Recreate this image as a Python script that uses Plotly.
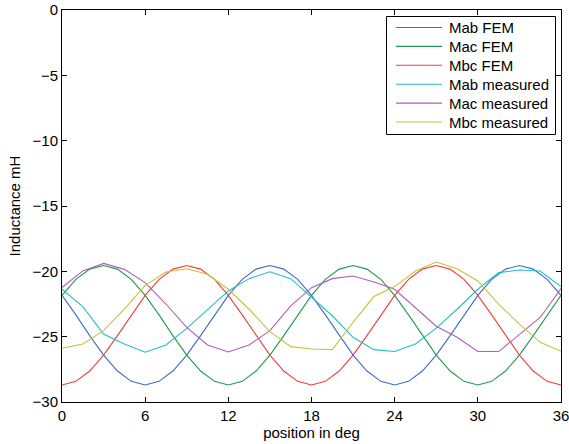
import plotly.graph_objects as go

# FEM results sampled every 1 degree
x_fem = list(range(0, 37))
mab_fem = [-21.84, -23.33, -24.92, -26.41, -27.63, -28.42, -28.70, -28.42, -27.63, -26.41,
           -24.92, -23.33, -21.84, -20.62, -19.83, -19.55, -19.83, -20.62, -21.84, -23.33,
           -24.92, -26.41, -27.63, -28.42, -28.70, -28.42, -27.63, -26.41, -24.92, -23.33,
           -21.84, -20.62, -19.83, -19.55, -19.83, -20.62, -21.84]
mac_fem = [-21.84, -20.62, -19.83, -19.55, -19.83, -20.62, -21.84, -23.33, -24.92, -26.41,
           -27.63, -28.42, -28.70, -28.42, -27.63, -26.41, -24.92, -23.33, -21.84, -20.62,
           -19.83, -19.55, -19.83, -20.62, -21.84, -23.33, -24.92, -26.41, -27.63, -28.42,
           -28.70, -28.42, -27.63, -26.41, -24.92, -23.33, -21.84]
mbc_fem = [-28.70, -28.42, -27.63, -26.41, -24.92, -23.33, -21.84, -20.62, -19.83, -19.55,
           -19.83, -20.62, -21.84, -23.33, -24.92, -26.41, -27.63, -28.42, -28.70, -28.42,
           -27.63, -26.41, -24.92, -23.33, -21.84, -20.62, -19.83, -19.55, -19.83, -20.62,
           -21.84, -23.33, -24.92, -26.41, -27.63, -28.42, -28.70]

# Measurements every 1.5 degrees
x_meas = [0, 1.5, 3, 4.5, 6, 7.5, 9, 10.5, 12, 13.5, 15, 16.5, 18, 19.5, 21, 22.5, 24,
          25.5, 27, 28.5, 30, 31.5, 33, 34.5, 36]
mab_meas = [-21.37, -22.7, -24.8, -25.56, -26.19, -25.63, -24.37, -22.9, -21.5, -20.56,
            -20.03, -20.56, -22.0, -23.4, -25.05, -25.99, -26.14, -25.56, -24.35, -22.9,
            -21.37, -20.1, -19.9, -19.97, -21.17]
mac_meas = [-21.24, -19.97, -19.39, -19.85, -20.86, -22.5, -24.29, -25.63, -26.17, -25.63,
            -24.54, -22.64, -21.25, -20.56, -20.36, -20.81, -21.37, -22.77, -24.2, -25.05,
            -26.14, -26.14, -24.8, -23.53, -21.32]
mbc_meas = [-25.89, -25.56, -24.54, -22.9, -21.07, -20.05, -19.8, -20.23, -21.37, -22.9,
            -24.62, -25.76, -25.94, -25.99, -23.9, -21.93, -21.17, -19.97, -19.29, -19.8,
            -20.74, -22.51, -24.04, -25.43, -26.12]

x_ticks = [0, 6, 12, 18, 24, 30, 36]
y_ticks = [0, -5, -10, -15, -20, -25, -30]

names = ["Mab FEM", "Mac FEM", "Mbc FEM", "Mab measured", "Mac measured", "Mbc measured"]
xs_list = [x_fem, x_fem, x_fem, x_meas, x_meas, x_meas]
ys_list = [mab_fem, mac_fem, mbc_fem, mab_meas, mac_meas, mbc_meas]
colors = ["#3b6cc9", "#1f9a4f", "#f23c3c", "#23bfc6", "#b25fb5", "#c4c43a"]

W, H = 569, 444
ML, MR, MT, MB = 62, 8, 10, 42
PW, PH = W - ML - MR, H - MT - MB
FONT = "Liberation Sans, Arial, Helvetica, sans-serif"


def px_x(X):
    return (X - ML) / PW


def px_y(Y):
    return (H - MB - Y) / PH


fig = go.Figure()
for name, xs, ys, col in zip(names, xs_list, ys_list, colors):
    fig.add_trace(go.Scatter(x=xs, y=ys, mode="lines", name=name,
                             line=dict(color=col, width=1.1), showlegend=False,
                             hoverinfo="skip"))

axis_common = dict(
    showline=True, linecolor="black", linewidth=1, mirror="ticks",
    ticks="inside", ticklen=5, tickcolor="black", tickwidth=1,
    showgrid=False, zeroline=False, automargin=False,
    ticklabeloverflow="allow",
    tickfont=dict(family=FONT, size=15, color="black"),
)

# Legend drawn as box + line samples + text (MATLAB style)
shapes = [dict(type="rect", xref="paper", yref="paper",
               x0=px_x(386.5), x1=px_x(555.5), y0=px_y(134.5), y1=px_y(16.5),
               line=dict(color="black", width=1), fillcolor="white", layer="above")]
annotations = []
for i, (name, col) in enumerate(zip(names, colors)):
    yc = 27.5 + 18.9 * i
    shapes.append(dict(type="line", xref="paper", yref="paper",
                       x0=px_x(396), x1=px_x(442), y0=px_y(yc), y1=px_y(yc),
                       line=dict(color=col, width=1.1), layer="above"))
    annotations.append(dict(text=name, xref="paper", yref="paper",
                            x=px_x(447), y=px_y(yc), xanchor="left", yanchor="middle",
                            showarrow=False, font=dict(family=FONT, size=15, color="black")))

fig.update_layout(
    width=W, height=H,
    margin=dict(l=ML, r=MR, t=MT, b=MB),
    paper_bgcolor="white", plot_bgcolor="white",
    font=dict(family=FONT, size=15, color="black"),
    xaxis=dict(range=[0, 36], tickvals=x_ticks,
               title=dict(text="position in deg", font=dict(size=15), standoff=2),
               **axis_common),
    yaxis=dict(range=[-30, 0], tickvals=y_ticks,
               title=dict(text="Inductance mH", font=dict(size=15), standoff=8),
               **axis_common),
    shapes=shapes,
    annotations=annotations,
    showlegend=False,
    hovermode=False,
)

fig.write_html("out.html", config={"displayModeBar": False},
               post_script="document.body.style.margin='0';")
